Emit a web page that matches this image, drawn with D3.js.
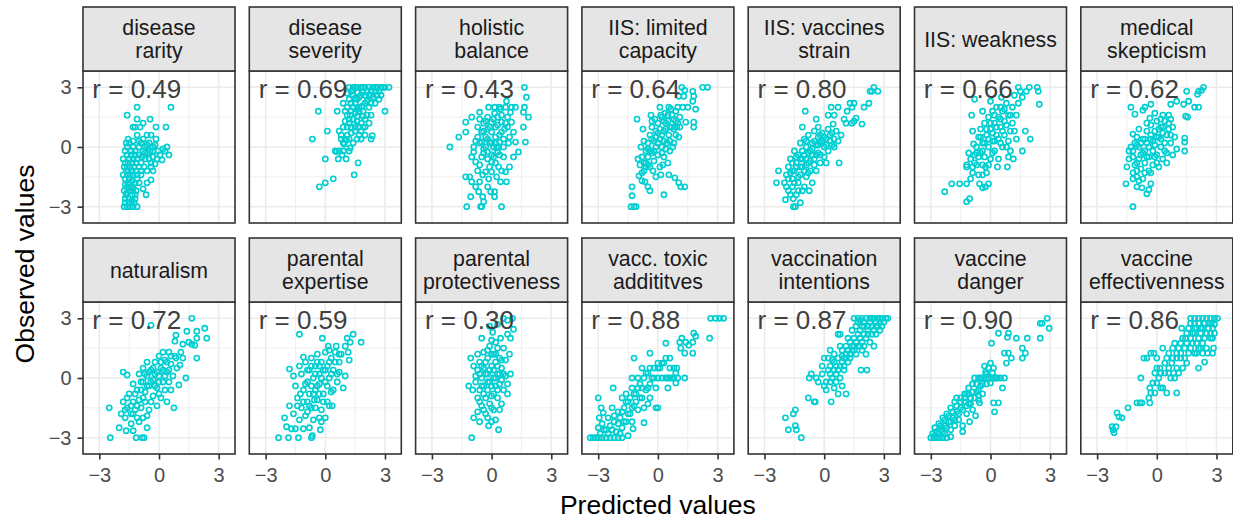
<!DOCTYPE html>
<html>
<head>
<meta charset="utf-8">
<script src="https://cdn.jsdelivr.net/npm/d3@7"></script>
<style>
  body { margin: 0; background: #fff; }
  svg { display: block; font-family: "Liberation Sans", Arial, Helvetica, sans-serif; }
</style>
</head>
<body>
<div id="chart"></div>
<script>
// facet labels, correlation per facet and axis ticks
const facets = ['disease\nrarity', 'disease\nseverity', 'holistic\nbalance', 'IIS: limited\ncapacity',
  'IIS: vaccines\nstrain', 'IIS: weakness', 'medical\nskepticism', 'naturalism', 'parental\nexpertise',
  'parental\nprotectiveness', 'vacc. toxic\naddititves', 'vaccination\nintentions', 'vaccine\ndanger',
  'vaccine\neffectivenness'];
const rValues = ['0.49', '0.69', '0.43', '0.64', '0.80', '0.66', '0.62', '0.72', '0.59', '0.30', '0.88', '0.87', '0.90', '0.86'];
const majorTicks = [-3, 0, 3];
const minorTicks = [-1.5, 1.5];

// [predicted, observed] pairs
const diseaseRarity = [[-1.6,1.6],[-1.1,2.0],[0.6,2.0],[-1.1,1.4],[-0.45,1.4],[-0.8,1.2],[-1.3,1.0],[-1.2,1.0],[-0.95,1.0],[-0.15,1.0],[0.35,1.0],[-1.1,0.6],[-0.6,0.6],[-0.4,0.6],[-1.55,0.4],[-0.15,0.4],[-0.5,0.2],[-0.9,0.2],[-1.6,0],[-1.3,0],[-0.7,0],[-0.3,0],[0.4,0],[0.5,-0.4],[0.15,-0.65],[-0.1,-0.6],[-0.3,-0.2],[-0.45,-0.2],[0.3,-0.2],[-0.8,-0.2],[-1.0,-0.4],[-0.2,-0.85],[-0.4,-1.0],[-0.6,-1.2],[-0.3,-1.2],[-0.4,-1.65],[-0.6,-1.8],[-0.8,-2.1],[-0.65,-2.4],[-1.1,-3.0],[-1.2,-2.6],
  [-1.75,-3],[-1.6,-3],[-1.45,-3],[-1.3,-3],[-1.7,-2.6],[-1.5,-2.6],[-1.35,-2.4],[-1.75,-2.2],[-1.6,-2.0],[-1.4,-2.0],[-1.2,-1.8],[-1.7,-1.6],[-1.5,-1.6],[-1.3,-1.4],[-1.1,-1.4],[-1.8,-1.4],[-1.65,-1.2],[-1.45,-1.0],[-1.25,-1.0],[-1.0,-1.0],[-1.7,-0.8],[-1.5,-0.6],[-1.3,-0.6],[-1.1,-0.6],[-0.9,-0.8],[-1.6,-0.4],[-1.4,-0.2],[-1.2,-0.2],[-1.0,0],[-1.7,-0.2],[-0.9,-1.2],[-0.75,-1.0],[-0.7,-0.6],[-0.5,-0.6],[-0.3,-0.5],[0.05,-0.4],[-0.05,-0.2],[0.2,-0.1],[-1.15,-2.2],[-1.0,-1.8],[-1.55,-1.8],[-1.25,-2.8],[-1.6,-2.3],[-1.4,-1.2],
  [-1.7,-2.8],[-1.5,-2.8],[-1.35,-2.7],[-1.65,-2.4],[-1.45,-2.2],[-1.3,-2.1],[-1.7,-1.9],[-1.5,-1.9],[-1.35,-1.7],[-1.6,-1.4],[-1.45,-1.4],[-1.55,-1.2],[-1.35,-1.2],[-1.6,-1.0],[-1.15,-1.2],[-1.55,-0.8],[-1.35,-0.8],[-1.15,-0.8],[-1.4,-0.4],[-1.2,-0.4],[-1.5,0.2],[-1.3,0.3],[-1.0,0.3],[-0.8,0.4],[-0.6,0.1],[-0.85,-0.5],[-0.55,-0.3],[-0.2,0.1],[-0.4,-0.8],[-0.7,-0.3],[-1.75,-1.0],[-1.8,-0.6],[-1.65,0.2],[-1.2,-2.4],[-1.1,-1.6],[-0.9,-1.4]];
const diseaseSeverity = [[-0.35,1.8],[-0.65,0.4],[0,-0.6],[-0.3,-2.0],[0,-1.8],[0.4,-1.6],[1.45,-1.4],[1.65,-0.8],[0.1,0.8],[0.6,1.8],[0.5,-0.2],[0.7,-0.2],[0.9,-0.2],[0.65,-0.6],[1.05,-0.6],[0.85,-0.4],[1.2,-0.2],[0.8,0.4],[1.0,0.4],[1.2,0.4],[1.6,0.4],[1.8,0.4],[0.9,0.2],[1.4,0.2],[2.3,0.4],[2.0,0.6],[1.7,0.6],[0.7,0.8],[0.9,1.0],[1.1,1.0],[1.3,1.0],[1.5,1.0],[1.9,1.0],[1.1,0.6],[0.8,0.6],[1.0,1.3],[1.2,1.4],[1.4,1.4],[1.6,1.3],[1.8,1.2],[2.0,1.4],[2.2,1.2],[1.1,1.6],[1.3,1.8],[1.5,1.7],[1.7,1.8],[1.9,1.8],[2.1,1.6],[2.3,1.6],[0.9,2.2],[1.1,2.0],[1.3,2.2],[1.5,2.2],[1.7,2.0],[2.0,2.2],[2.2,2.0],[2.5,2.2],[3.0,1.8],[2.7,2.4],[1.2,2.4],[1.4,2.6],[1.6,2.4],[1.8,2.6],[2.0,2.6],[2.3,2.6],[2.6,2.6],[2.8,2.6],[1.3,2.8],[1.2,3],[1.4,3],[1.6,3],[1.8,3],[2.0,3],[2.2,3],[2.4,3],[2.6,3],[2.8,3],[3.0,3],[3.2,3],[1.5,3],[1.9,3],[2.5,3],[2.9,3],[0.57,-0.23],[1.07,0.35],[2.36,0.57],
  [1.3,0.7],[1.5,0.8],[1.2,1.2],[1.45,1.15],[1.7,1.0],[1.9,1.55],[1.6,1.55],[1.25,1.6],[1.4,2.0],[1.6,1.9],[1.85,2.05],[2.1,2.3],[2.3,2.2],[1.5,2.45],[1.7,2.5],[2.2,2.6],[2.4,2.5],[1.9,2.75],[2.1,2.8],[2.3,2.85],[1.6,2.75],[1.4,2.85],[2.55,2.8],[2.7,2.8],[1.1,2.7],[1.0,1.8],[1.8,0.8],[2.0,1.0],[0.95,0.15],[1.25,-0.05]];
const holisticBalance = [[-2.1,0],[-1.65,0.5],[-1.3,0.75],[-1.3,1.25],[-1.0,1.5],[-0.6,1.75],[-0.15,2],[0.15,2],[0.4,2],[0.7,2],[1.0,2],[1.2,2],[0.75,2.3],[1.65,3],[1.75,2.5],[1.65,2],[1.85,1.5],[1.6,1.75],[1.6,1.0],[1.7,0.25],[1.35,-0.25],[1.1,-0.5],[0.9,-1.0],[0.7,-1.25],[0.75,-1.75],[0.45,-1.75],[0.15,-2.25],[0.5,-3],[-0.5,-3],[-0.55,-3],[-1.25,-3],[-1.05,-2.5],[-0.4,-2.75],[-1.3,-1.5],[-1.1,-1.5],[-1.0,-1.75],[-0.8,-2.0],[-0.65,-2.25],[-0.05,-2.25],[0.15,-2.5],[-0.45,-2.5],[-0.2,-2.0],[-0.6,-1.75],
  [-0.9,-0.25],[-0.9,0],[-0.7,0.5],[-0.7,1.0],[-0.5,0.75],[-0.5,0.25],[-0.5,-0.5],[-0.4,1.2],[-0.3,0],[-0.3,0.5],[-0.2,1.5],[-0.2,-0.25],[-0.1,-1.0],[-0.1,0.25],[0,0.75],[0,1.25],[0.1,-0.5],[0.1,0],[0.2,0.5],[0.2,1.0],[0.3,1.5],[0.3,-0.25],[0.35,-1.0],[0.4,0.25],[0.5,0.75],[0.5,1.25],[0.6,0],[0.6,-0.5],[0.8,1.0],[0.8,1.5],[0.9,0.5],[1.0,1.25],[1.1,0.75],[1.2,0.25],[-0.3,-1.25],[0,-1.25],[-0.6,-0.9],[-0.8,-0.75],[0.25,-1.5],[-0.15,-1.6],[0.0,-0.75],[0.35,0.0],[-0.2,0.9],[0.15,1.7],[0.5,1.6],[-0.4,-0.1],
  [-0.6,0.2],[-0.4,0.8],[-0.2,0.4],[0,0.2],[0.2,0.2],[0.4,0.6],[0.6,0.4],[0.7,1.2],[-0.1,1.0],[0.1,1.4],[0.3,1.1],[0.45,1.9],[-0.3,1.3],[-0.6,1.4],[0.0,-0.4],[0.2,-0.8],[0.4,-0.4],[-0.2,-0.6],[-0.4,-0.3],[0.25,-0.05],[0.65,0.9],[0.85,0.2],[0.95,1.75],[-0.8,0.3],[-1.0,-0.5],[-0.45,-1.4],[0.5,-1.2],[-0.7,-1.2]];
const iisCapacity = [[1.2,3],[1.35,2.85],[2.25,3],[2.5,3],[1.75,2.8],[1.8,2.55],[1.05,2.55],[1.3,2.55],[1.75,2.3],[1.9,1.9],[0.1,2],[0.55,2],[1.0,2],[1.25,2],[1.5,2],[1.8,1.25],[1.8,1.0],[1.4,1.25],[1.05,0.5],[0.75,0],[0.3,0.3],[-1.05,1.4],[-1.3,-2.0],[-1.3,-2.45],[-1.35,-3],[-1.1,-3],[-1.2,-3],[-0.5,-2.0],[-0.4,-2.2],[0.3,-2.4],[0.55,-1.4],[0.85,-1.55],[1.05,-1.8],[1.35,-2.0],[1.15,-2.0],[0.15,-1.4],[-0.1,-1.5],[-0.65,-1.75],[-0.95,-1.45],[-0.8,-1.7],
  [-0.9,-0.9],[-0.8,-0.5],[-0.7,-1.2],[-0.6,-0.8],[-0.6,-0.2],[-0.5,0.2],[-0.5,-0.5],[-0.4,-1.0],[-0.4,0.6],[-0.3,-0.3],[-0.3,1.0],[-0.2,0.3],[-0.2,-0.7],[-0.15,1.4],[-0.1,0],[-0.1,0.8],[0,-0.4],[0,1.2],[0.1,0.4],[0.1,-1.0],[0.2,1.5],[0.2,0],[0.3,0.8],[0.3,-0.5],[0.4,1.2],[0.45,0.2],[0.5,1.6],[0.55,0.6],[0.6,-0.2],[0.7,1.0],[0.8,1.4],[0.9,0.6],[1.0,1.2],[1.1,1.5],[0.65,1.9],[0.35,1.7],[-0.35,1.6],[-0.7,0.3],[-0.75,0.9],[-0.85,0.0],[0.8,0.2],[0.95,1.0],[0.25,-0.9],[-0.25,-1.2],[0.5,-0.8],
  [-0.7,-0.8],[-0.5,-0.9],[-0.4,-0.2],[-0.3,0.4],[-0.1,0.5],[0,0.2],[0.1,0.9],[0.2,0.6],[0.3,1.3],[0.4,0.9],[0.5,1.3],[0.6,1.0],[0.7,1.6],[0.8,0.9],[0.9,1.3],[0.6,0.3],[0.4,-0.1],[0.2,-0.3],[-0.2,-0.2],[-0.5,-0.1],[0.0,0.7],[-0.3,1.3],[0.15,1.6],[0.9,1.8],[1.1,1.0],[-0.8,-1.3],[-0.6,-1.0],[-1.0,-0.6]];
const iisStrain = [[2.3,2.8],[2.5,3],[2.7,2.8],[2.4,2.8],[2.25,2.2],[2.0,2.0],[1.3,2.2],[1.4,2.0],[1.5,2.2],[0.7,2.0],[0.35,2.0],[-0.95,1.8],[1.15,1.8],[1.6,1.45],[1.5,1.3],[1.4,1.2],[1.9,1.15],[1.0,1.4],[1.1,1.2],[0.5,1.6],[0.2,1.6],[0.45,1.15],[-0.4,1.4],[-1.1,1.0],[-0.3,1.0],[0.75,-0.8],[-2.3,-1.2],[-2.4,-1.8],[-1.95,-2.65],[-1.55,-3],[-1.45,-3],[-1.2,-2.8],[-1.55,-2.6],[-0.75,-2.2],[-1.1,-2.2],
  [-2.0,-1.8],[-1.9,-1.4],[-1.8,-2.2],[-1.8,-1.0],[-1.7,-0.6],[-1.6,-1.6],[-1.6,-2.0],[-1.5,-1.2],[-1.5,-0.2],[-1.4,-0.8],[-1.4,-2.4],[-1.3,-1.8],[-1.3,-0.4],[-1.2,0.2],[-1.2,-1.4],[-1.1,-1.0],[-1.0,-2.0],[-1.0,-0.4],[-1.0,0.4],[-0.9,-1.5],[-0.9,0],[-0.8,-0.8],[-0.8,0.6],[-0.7,-1.2],[-0.7,-0.2],[-0.6,0.2],[-0.6,-1.8],[-0.5,-0.6],[-0.5,0.8],[-0.4,-1.2],[-0.4,0.1],[-0.3,0.5],[-0.3,-0.3],[-0.2,-0.8],[-0.2,0.2],[-0.1,0.7],[0,0],[0,-0.5],[0.1,0.4],[0.2,-0.2],[0.3,0.6],[0.4,0.1],[0.5,0.4],[0.6,0.8],[0.7,0.3],[0.85,0.6],[0.2,0.9],[-1.7,-1.3],[-1.2,-0.6],[-0.6,-0.4],[0.1,-0.8],[-0.9,-0.6],
  [-1.8,-1.6],[-1.6,-1.2],[-1.5,-1.8],[-1.4,-1.0],[-1.3,-1.5],[-1.2,-1.0],[-1.1,-0.6],[-1.0,-1.2],[-0.9,-0.9],[-0.8,-0.3],[-0.8,-1.3],[-0.7,-0.7],[-0.6,-0.1],[-0.5,-0.9],[-0.5,0.3],[-0.4,-0.4],[-0.3,0.1],[-0.2,-0.4],[-0.1,0.3],[0,0.5],[0.1,0.1],[0.3,0.3],[0.4,0.7],[0.5,0.0],[-0.2,0.6],[-0.9,0.3],[-1.1,-0.2],[-1.4,-0.5],[-1.6,-0.8],[-1.9,-2.0],[-1.7,-2.4],[-1.3,-2.2]];
const iisWeakness = [[1.4,3],[1.5,2.8],[1.95,3],[2.35,3],[2.4,2.8],[1.8,2.8],[2.45,2.15],[1.2,2.6],[1.6,2.5],[-0.8,2.4],[-0.95,1.6],[-0.4,1.8],[1.75,0.8],[2.0,0.4],[1.6,-0.2],[0.85,-1.0],[1.15,-0.6],[-0.85,0.15],[-1.2,-1.0],[-2.3,-2.25],[-1.95,-1.85],[-1.55,-1.85],[-1.2,-1.85],[-1.2,-2.75],[-1.05,-2.6],[-0.55,-1.85],[-0.25,-2.0],[-0.1,-1.85],[-0.4,-2.05],
  [-1.2,-0.9],[-1.0,-0.6],[-1.1,-0.3],[-0.9,-1.3],[-0.8,-0.4],[-0.7,0],[-0.7,-0.9],[-0.6,0.5],[-0.6,-1.4],[-0.5,-0.3],[-0.5,0.9],[-0.4,0.2],[-0.4,-0.9],[-0.3,1.2],[-0.3,-0.5],[-0.2,0.6],[-0.2,-1.3],[-0.1,0],[-0.1,1.5],[0,0.9],[0,-0.6],[0.1,0.3],[0.1,1.8],[0.2,1.2],[0.2,-0.2],[0.3,0.6],[0.3,2.0],[0.4,1.5],[0.4,-0.6],[0.5,0.2],[0.5,1.0],[0.6,1.8],[0.7,0.6],[0.7,1.3],[0.8,2.2],[0.8,0],[0.9,1.6],[1.0,0.8],[1.1,1.2],[1.1,2.0],[1.3,1.6],[1.3,0.4],[1.4,2.2],[0.9,-0.5],[-0.9,0.8],[-0.25,-1.0],[0.0,2.3],[0.55,2.5],
  [-0.8,-0.8],[-0.6,-0.5],[-0.4,-0.2],[-0.3,0.2],[-0.2,0.9],[-0.1,0.4],[0,1.2],[0.1,0.7],[0.2,0.3],[0.2,1.6],[0.3,1.0],[0.4,0.4],[0.5,1.4],[0.6,0.8],[0.6,0.0],[0.7,1.9],[0.8,1.1],[0.9,0.3],[1.0,1.6],[1.2,0.8],[0.5,2.0],[-0.5,0.5],[-0.7,-0.3],[-0.9,-1.0],[-1.0,-1.6],[-0.4,-1.4],[-0.1,-0.9],[0.1,-0.3],[0.35,-1.0],[1.0,-0.2]];
const medicalSkepticism = [[2.35,3],[2.1,2.8],[2.05,2.65],[2.25,2.85],[1.5,2.8],[1.6,2.3],[1.35,2.15],[1.0,2.3],[0.7,2.15],[1.9,2.0],[2.1,2.0],[-1.3,2.0],[-1.1,1.65],[-0.7,1.85],[-0.6,2.0],[-0.3,2.15],[-0.35,1.45],[1.45,1.55],[1.55,1.5],[1.4,0.45],[1.4,0.25],[1.4,-0.2],[-1.2,0.65],[-1.0,0.5],[-1.4,-0.2],[-1.5,-1.0],[-1.55,-1.85],[-1.2,-3],[-0.5,-2.35],[-0.3,-1.85],[-1.0,-2.0],[-0.75,-2.05],[-0.4,-2.15],[-0.9,-1.7],
  [-1.3,0],[-1.2,-0.5],[-1.2,-1.3],[-1.1,0.2],[-1.0,-0.8],[-1.0,-1.5],[-0.9,0],[-0.8,-0.4],[-0.8,-1.1],[-0.7,0.4],[-0.7,-1.6],[-0.6,-0.2],[-0.6,-0.8],[-0.5,0.8],[-0.5,0.2],[-0.4,-0.5],[-0.4,-1.2],[-0.3,1.1],[-0.3,0.4],[-0.2,-0.2],[-0.2,-0.9],[-0.1,0.8],[-0.1,0.1],[0,1.3],[0,-0.4],[0.1,0.5],[0.1,-1.0],[0.2,1.0],[0.2,0],[0.3,-0.6],[0.3,0.7],[0.4,1.3],[0.4,0.2],[0.5,-0.3],[0.6,0.9],[0.7,0.2],[0.8,-0.4],[0.8,1.0],[0.9,0.5],[0.5,-0.8],[-0.1,1.7],[0.3,1.6],[0.7,1.4],[-0.9,0.9],[1.0,-0.1],
  [-1.2,-0.2],[-1.1,-0.9],[-1.0,0.1],[-0.9,-0.6],[-0.8,0.2],[-0.7,-0.3],[-0.6,0.4],[-0.5,-0.5],[-0.4,0.0],[-0.3,0.6],[-0.2,0.3],[-0.1,-0.5],[0,0.5],[0.1,0.9],[0.2,0.4],[0.3,1.0],[0.4,-0.2],[0.5,0.6],[0.6,1.2],[0.7,0.6],[-0.6,-1.3],[-1.0,-1.2],[-1.2,-1.6],[-0.3,-1.3],[0.0,-0.8],[-0.5,1.2],[0.2,1.4],[0.6,1.6],[-1.4,-0.6]];
const naturalism = [[1.65,3],[-0.4,2.65],[2.3,2.5],[1.4,2.35],[1.9,2.35],[0.85,2.15],[2.4,2.0],[1.9,2.0],[0.8,1.85],[1.2,1.7],[1.65,1.7],[1.8,1.65],[1.5,1.8],[1.9,1.0],[1.2,1.0],[0.85,1.0],[1.05,0.65],[1.35,0],[1.0,-0.35],[0.75,-1.5],[-2.5,-1.5],[-2.45,-3],[-2.0,-2.5],[-1.65,-2.65],[-1.3,-2.65],[-1.15,-3],[-0.85,-3],[-0.75,-3],[-0.6,-2.5],[-1.8,0.3],[-1.6,0.15],[-1.0,-2.2],[-0.8,-2.0],[-1.4,-2.3],
  [-1.9,-1.8],[-1.8,-1.2],[-1.7,-2.0],[-1.6,-1.5],[-1.5,-0.8],[-1.4,-1.8],[-1.3,-1.2],[-1.3,-0.3],[-1.2,-1.6],[-1.1,-0.6],[-1.0,-1.1],[-1.0,0.2],[-0.9,-0.2],[-0.9,-1.5],[-0.8,0.5],[-0.7,-0.7],[-0.7,-1.2],[-0.6,0.1],[-0.6,0.8],[-0.5,-0.4],[-0.5,-1.6],[-0.4,0.4],[-0.3,-0.1],[-0.3,-0.9],[-0.2,0.8],[-0.2,0.2],[-0.1,-0.5],[0,0.1],[0,1.1],[0.1,-1.0],[0.1,0.5],[0.2,-0.2],[0.3,0.9],[0.3,-0.6],[0.4,0.3],[0.5,1.3],[0.5,-0.2],[0.6,0.7],[0.7,0.1],[0.8,1.1],[0.2,1.3],[-0.1,-1.4],[0.4,-1.2],[-1.1,-2.0],[-0.6,-1.9],
  [-1.6,-1.0],[-1.4,-1.4],[-1.2,-0.8],[-1.1,-1.4],[-0.9,-0.6],[-0.8,-0.2],[-0.7,0.2],[-0.6,-0.4],[-0.5,0.3],[-0.4,-0.2],[-0.3,0.5],[-0.2,-0.4],[-0.1,0.3],[0,-0.2],[0.1,0.8],[0.2,0.4],[0.3,0.1],[0.4,0.8],[0.5,0.4],[0.6,1.1],[-0.4,-1.2],[-0.8,-1.0],[0.0,-0.8],[0.6,-0.6],[0.9,0.5],[1.1,1.3],[-1.7,-1.6],[-1.3,-1.8]];
const parentalExpertise = [[-1.3,2.2],[-0.15,2.0],[1.4,2.2],[1.8,1.8],[1.1,2.0],[1.25,1.8],[1.0,1.6],[0.15,1.6],[0.55,1.6],[-1.1,1.05],[-1.3,0.6],[-1.8,0.45],[-1.6,0.1],[-2.35,-3],[-1.85,-3],[-1.35,-3],[-0.7,-3],[-0.65,-2.9],[-0.25,-2.6],[-2.05,-2.0],[-1.95,-2.45],[-1.7,-2.55],[-1.5,-2.55],[-1.1,-2.55],[-0.8,-2.5],[-0.3,-2.0],[0.2,-1.4],[0.4,-0.6],[1.0,0.1],[1.2,0.9],[1.15,1.3],[0.7,0.8],
  [-1.8,-1.4],[-1.6,-1.8],[-1.5,-0.4],[-1.4,-1.0],[-1.3,-2.1],[-1.2,0.2],[-1.2,-1.5],[-1.1,-0.6],[-1.0,-1.9],[-1.0,0.8],[-0.9,-0.2],[-0.9,-1.2],[-0.8,0.4],[-0.8,-0.8],[-0.7,1.0],[-0.7,-1.5],[-0.6,0],[-0.6,-2.1],[-0.5,-0.6],[-0.5,0.6],[-0.4,1.2],[-0.4,-1.1],[-0.3,0.2],[-0.3,-0.3],[-0.2,-1.6],[-0.2,0.8],[-0.1,-0.8],[-0.1,0.4],[0,1.3],[0,-0.2],[0.1,-1.2],[0.1,0.6],[0.2,0],[0.3,1.0],[0.3,-0.7],[0.4,0.4],[0.5,1.3],[0.6,-0.2],[0.7,0.3],[0.8,1.2],[0.9,-0.5],[-0.55,-1.1],[-1.25,-0.8],[0.0,-2.0],[0.35,-1.4],
  [-1.1,-1.2],[-1.0,-0.3],[-0.9,0.4],[-0.8,-1.4],[-0.7,-0.4],[-0.7,0.6],[-0.6,-0.8],[-0.5,0.2],[-0.4,-0.4],[-0.4,0.8],[-0.3,-0.8],[-0.3,0.6],[-0.2,0],[-0.1,-1.2],[0,0.4],[0.1,-0.4],[0.2,0.8],[0.3,0.2],[0.5,0.8],[0.6,0.2],[-0.5,-1.5],[-0.9,-1.7],[-1.4,-1.4],[-0.2,-2.2],[0.2,1.4],[0.7,1.2]];
const parentalProtect = [[-1.0,-3],[-1.15,-0.4],[-1.05,1.0],[-0.7,1.2],[0.35,-2.6],[-0.15,-2.4],[-0.9,-2.0],[-0.7,-1.7],[-0.6,-2.2],[0.2,-2.1],[1.1,2.45],[1.05,3],[0.8,2.9],[0.6,3],[0.3,2.7],[-0.1,2.6],[0.05,2.3],[0.8,2.2],[0.95,2.0],[0.9,1.2],[0.95,0.2],[0.8,-0.3],[0.8,-0.8],[-0.9,0.6],[-0.8,0.1],[-0.95,-0.6],
  [-0.8,-0.2],[-0.7,0.4],[-0.7,-1.0],[-0.6,-0.6],[-0.6,0.8],[-0.5,0],[-0.5,-1.4],[-0.4,1.3],[-0.4,-0.4],[-0.4,0.5],[-0.3,-1.0],[-0.3,-1.8],[-0.2,0.2],[-0.2,1.0],[-0.2,-0.6],[-0.1,1.6],[-0.1,-0.2],[-0.1,-1.3],[0,0.6],[0,-0.9],[0,1.9],[0.1,0],[0.1,1.2],[0.1,-1.6],[0.2,-0.4],[0.2,0.8],[0.3,1.5],[0.3,-1.0],[0.3,0.2],[0.4,-0.3],[0.4,1.0],[0.5,0.5],[0.5,-1.3],[0.6,1.5],[0.6,-0.6],[0.7,0.1],[0.7,0.9],[-0.2,-2.0],[0.0,-2.2],[-0.5,2.0],[0.45,2.0],
  [-0.6,0.2],[-0.5,0.6],[-0.5,-0.4],[-0.4,-0.8],[-0.3,0.2],[-0.3,0.8],[-0.2,-0.2],[-0.1,0.4],[0,-0.4],[0,1.2],[0.1,0.4],[0.1,-0.8],[0.2,0],[0.2,1.2],[0.3,-0.6],[0.3,0.6],[0.4,0.2],[0.5,-0.1],[0.5,0.9],[-0.2,1.4],[0.2,1.8],[-0.6,-1.2],[0.0,-1.5],[0.4,-1.6],[-0.4,-1.6],[0.6,0.2]];
const toxicAdditives = [[2.65,3],[2.9,3],[3.1,3],[3.3,3],[2.6,2.0],[1.8,2.25],[1.9,2.1],[1.75,1.8],[1.4,1.8],[1.55,1.65],[1.15,1.5],[1.35,1.25],[1.75,1.25],[1.2,2.0],[1.1,1.8],[0.4,1.75],[-0.4,1.25],[-1.2,1.0],[0.4,1.0],[0.6,1.0],[0.0,0.75],[1.35,0],[0.95,0.5],[0.6,0.5],[0.9,0.25],[-2.25,-0.5],[-3.0,-1.0],[-2.85,-1.5],[-2.75,-1.75],[-2.95,-2.0],
  [-3.4,-3],[-3.25,-3],[-3.1,-3],[-2.95,-3],[-2.8,-3],[-2.6,-3],[-2.4,-3],[-2.2,-3],[-2.0,-3],[-1.8,-3],
  [-3.0,-2.5],[-2.8,-2.3],[-2.6,-2.6],[-2.5,-2.0],[-2.4,-2.4],[-2.3,-1.5],[-2.2,-2.2],[-2.1,-2.7],[-2.0,-1.7],[-1.9,-2.0],[-1.8,-1.0],[-1.8,-2.5],[-1.7,-1.5],[-1.6,-0.8],[-1.6,-2.2],[-1.5,-1.2],[-1.4,-1.8],[-1.3,-0.5],[-1.3,0],[-1.2,-1.4],[-1.1,-0.8],[-1.0,0],[-1.0,-1.6],[-0.9,-0.3],[-0.8,-1.0],[-0.8,0.5],[-0.7,0],[-0.6,-0.6],[-0.5,0.25],[-0.5,-1.3],[-0.4,-0.3],[-0.3,0],[-0.2,0.5],[-0.1,-0.5],[0,0],[0.1,0.5],[0.2,0],[0.3,0.75],[0.4,0],[0.5,-0.5],[0.6,0],[0.8,0],[0.9,-0.25],[-0.1,-1.5],[0.0,-1.5],[-1.9,-2.8],[-1.5,-2.9],[-0.7,-2.25],[-1.25,-2.55],
  [-2.9,-2.8],[-2.7,-2.6],[-2.5,-2.8],[-2.3,-2.6],[-2.2,-1.9],[-2.0,-2.3],[-1.8,-1.7],[-1.7,-2.2],[-1.6,-1.2],[-1.5,-1.8],[-1.4,-1.0],[-1.3,-1.5],[-1.2,-0.8],[-1.1,-1.2],[-1.0,-0.5],[-0.9,-1.0],[-0.8,-0.5],[-0.7,-1.5],[-0.6,0.25],[-0.5,-0.5],[-0.4,0.5],[-0.2,0],[0,0.5],[0.2,0.75],[0.5,0],[0.7,0],[1.0,0],[0.8,0.5],[-0.4,-1.0],[-1.3,-2.2]];
const vaccIntentions = [[-1.15,-3],[-1.8,-2.6],[-1.4,-2.6],[-1.45,-2.4],[-1.95,-2.0],[-1.55,-1.8],[-1.45,-1.6],[-0.8,-1.0],[-0.5,-1.2],[-0.45,-1.2],[0.35,-1.2],[-0.75,0],[-0.4,0],[-0.3,-0.2],[-0.65,0.2],[0,1.0],[0.3,1.4],[0.7,2.2],[0.8,2.2],[1.85,0.4],[2.15,0.4],[1.1,-0.8],[0.7,-0.8],[0.1,-0.6],[0.0,-0.4],[0.5,-0.5],[0.9,-0.4],[0.1,-0.2],[0.4,0.0],[0.6,0.2],[0.8,0.0],[0.2,0.4],[-0.1,0.2],[0.3,0.6],[0.5,0.8],[0.8,0.6],[1.0,0.4],[0.7,1.0],[1.0,1.0],[1.2,0.8],[0.5,1.2],[0.9,1.4],[1.1,1.2],[1.3,1.0],[1.4,1.4],[1.6,1.2],[0.8,1.6],[1.1,1.6],[1.3,1.8],[1.5,1.6],[1.7,1.6],[1.9,1.4],[2.1,1.2],[1.2,2.0],[1.5,2.0],[1.7,2.2],[1.9,1.8],[2.1,2.0],[2.3,1.8],[2.5,1.6],[1.4,2.4],[1.6,2.6],[1.8,2.4],[2.0,2.6],[2.2,2.4],[2.4,2.2],[2.6,2.2],[2.8,2.4],[2.9,2.6],[2.0,2.8],[2.3,2.8],[2.6,2.8],[1.5,3],[1.7,3],[1.9,3],[2.1,3],[2.3,3],[2.5,3],[2.7,3],[2.9,3],[3.1,3],[3.2,3],[1.8,2.9],[2.4,3],[2.8,3],[0.2,1.0],[-0.1,0.6],
  [0.3,0.2],[0.5,0.4],[0.6,0.6],[0.7,0.4],[0.9,0.8],[1.0,0.6],[1.1,1.0],[1.2,1.4],[1.3,1.2],[1.5,1.4],[1.6,1.8],[1.8,1.6],[1.8,2.0],[2.0,2.2],[2.2,2.2],[2.0,1.6],[2.4,2.6],[2.6,2.6],[2.8,2.8],[3.0,2.8],[2.2,2.6],[1.7,2.8],[2.5,2.4],[2.7,2.6],[1.9,2.6],[1.4,1.6],[0.9,1.1],[0.4,0.9],[0.3,-0.2],[0.6,-0.2]];
const vaccineDanger = [[-3.0,-3],[-2.85,-3],[-2.7,-3],[-2.55,-3],[-2.4,-3],[-2.2,-3],[-2.9,-2.8],[-2.8,-2.5],[-2.7,-2.7],[-2.6,-2.3],[-2.5,-2.6],[-2.4,-2.0],[-2.3,-2.4],[-2.2,-1.8],[-2.1,-2.2],[-2.0,-2.6],[-2.0,-1.5],[-1.9,-2.0],[-1.8,-1.2],[-1.8,-2.4],[-1.7,-1.7],[-1.6,-2.1],[-1.5,-1.0],[-1.5,-1.5],[-1.4,-2.4],[-1.3,-1.2],[-1.3,-0.8],[-1.2,-1.8],[-1.1,-0.5],[-1.1,-1.3],[-1.0,-1.0],[-0.9,-0.3],[-0.9,-1.6],[-0.8,0],[-0.7,-0.7],[-0.6,-1.1],[-0.6,0],[-0.5,-0.4],[-0.45,0],[-0.3,0],[-0.2,-0.3],[-0.1,0],[0.05,0],[0.2,0],[0.35,0],[0.5,0],[0.7,0],[0.6,-0.5],[0.4,-1.25],[0.2,-1.7],[0.15,-1.25],[-0.55,-1.25],[-0.75,-1.9],[-1.05,-2.2],[-1.4,-2.7],[-2.0,-2.95],[-0.4,-0.8],[0.0,-0.25],[-0.25,0.3],[-0.1,0.5],[0.0,0.75],[0.15,0.5],[-0.3,0.6],[0.05,1.75],[0.4,2.25],[0.9,2.25],[0.85,2.05],[1.3,2.0],[1.85,2.0],[0.7,1.25],[0.9,1.25],[1.05,1.0],[0.8,0.75],[1.6,1.5],[1.75,1.25],[1.6,1.0],[2.85,3.0],[2.95,2.5],[2.5,2.75],[2.6,2.75],[2.5,2.0],[-1.7,-1.0],[-1.2,-0.8],[-2.3,-2.8],
  [-2.8,-2.9],[-2.6,-2.8],[-2.5,-2.4],[-2.3,-2.1],[-2.2,-2.5],[-2.1,-1.9],[-1.9,-1.7],[-1.8,-2.1],[-1.7,-1.4],[-1.6,-1.8],[-1.5,-1.2],[-1.4,-1.6],[-1.3,-1.0],[-1.2,-1.4],[-1.1,-0.8],[-1.0,-1.3],[-0.9,-0.7],[-0.8,-1.0],[-0.7,-0.3],[-0.6,-0.6],[-0.5,0.0],[-0.4,-0.3],[-0.2,0.2],[0.1,0.25],[0.3,0.0],[-0.6,-0.9],[-2.4,-2.7],[-2.0,-2.2]];
const vaccEffectiveness = [[-2.2,-2.6],[-2.05,-2.45],[-2.25,-2.45],[-2.15,-2.75],[-2.0,-1.75],[-1.9,-1.95],[-1.75,-2.0],[-1.45,-1.5],[-1.0,-1.25],[-0.85,-1.25],[-0.75,-1.25],[-0.35,-1.25],[-0.8,0],[-0.65,1.0],[-0.5,1.0],[-0.3,1.25],[-0.15,1.25],[0,1.0],[1.0,-0.75],[-0.4,-1.0],[-0.3,-0.75],[-0.1,-0.75],[0.5,-0.75],[0.2,-0.5],[-0.35,-0.5],[-0.2,-0.25],[0.0,-0.25],[0.3,-0.5],[0.1,0],[-0.1,0.25],[0.15,0.5],[0.4,0.75],[0.6,0.25],[0.7,0],[0.85,0.25],[1.0,0.5],[0.9,0],[1.1,0.25],[0.75,0.75],[0.5,1.0],[0.3,1.5],[0.6,1.25],[0.8,1.5],[1.0,1.25],[1.2,1.0],[1.3,0.5],[1.5,0.75],[0.9,1.75],[1.1,1.5],[1.3,2.0],[1.5,1.75],[1.7,1.5],[1.9,1.25],[2.1,1.5],[1.25,2.5],[1.5,2.25],[1.7,2.0],[1.9,2.25],[2.1,2.0],[2.3,1.75],[2.5,1.5],[1.7,2.75],[1.9,2.5],[2.1,2.75],[2.3,2.5],[2.5,2.25],[2.7,2.0],[2.9,2.25],[2.8,2.0],[2.85,1.5],[2.1,0.5],[2.4,0.8],[1.7,3],[1.9,3],[2.1,3],[2.3,3],[2.5,3],[2.7,3],[2.9,3],[3.05,3],[2.6,2.75],[2.9,2.7],[2.3,1.25],[2.55,1.25],[2.8,1.25],
  [1.2,1.25],[1.4,1.5],[1.4,1.0],[1.6,1.25],[1.8,1.75],[2.0,1.75],[2.2,2.25],[2.4,2.0],[2.6,2.5],[2.8,2.5],[1.6,2.5],[1.8,2.25],[2.0,2.5],[2.4,2.75],[2.7,2.25],[2.2,1.5],[1.2,1.75],[1.0,1.0],[0.8,1.0],[0.6,0.5],[0.4,0.25],[0.2,0.25],[0.0,0.5],[1.9,2.75],[2.2,2.5],[2.75,2.75],[1.45,2.0],[2.0,1.25]];

const facetPoints = [diseaseRarity, diseaseSeverity, holisticBalance, iisCapacity, iisStrain, iisWeakness,
  medicalSkepticism, naturalism, parentalExpertise, parentalProtect, toxicAdditives, vaccIntentions,
  vaccineDanger, vaccEffectiveness];

var width = 1233, height = 519;
var left0 = 83, colStep = 166.3, rowStep = 231, top0 = 7;
var panelSize = 152, stripH = 64;
var nCols = 7;
var fontFam = '"Liberation Sans", Arial, Helvetica, sans-serif';

var svg = d3.select('#chart').append('svg')
  .attr('width', width)
  .attr('height', height);

var x = d3.scaleLinear().domain([-3.82, 3.82]).range([0, panelSize]);
var y = d3.scaleLinear().domain([-3.82, 3.82]).range([panelSize, 0]);

facets.forEach(function(label, i) {
  var col = i % nCols, row = Math.floor(i / nCols);
  var px = left0 + col * colStep;
  var sy = top0 + row * rowStep;
  var py = sy + stripH;

  var g = svg.append('g').attr('transform', 'translate(' + px + ',' + py + ')');

  // grid lines, minor first
  g.selectAll('.minor-v').data(minorTicks).enter().append('line')
    .attr('x1', d => x(d)).attr('x2', d => x(d)).attr('y1', 0).attr('y2', panelSize)
    .attr('stroke', '#ebebeb').attr('stroke-width', 0.8);
  g.selectAll('.minor-h').data(minorTicks).enter().append('line')
    .attr('y1', d => y(d)).attr('y2', d => y(d)).attr('x1', 0).attr('x2', panelSize)
    .attr('stroke', '#ebebeb').attr('stroke-width', 0.8);
  g.selectAll('.major-v').data(majorTicks).enter().append('line')
    .attr('x1', d => x(d)).attr('x2', d => x(d)).attr('y1', 0).attr('y2', panelSize)
    .attr('stroke', '#ebebeb').attr('stroke-width', 1.6);
  g.selectAll('.major-h').data(majorTicks).enter().append('line')
    .attr('y1', d => y(d)).attr('y2', d => y(d)).attr('x1', 0).attr('x2', panelSize)
    .attr('stroke', '#ebebeb').attr('stroke-width', 1.6);

  // points
  g.selectAll('circle').data(facetPoints[i]).enter().append('circle')
    .attr('cx', d => x(d[0]))
    .attr('cy', d => y(d[1]))
    .attr('r', 2.6)
    .attr('fill', 'none')
    .attr('stroke', '#00ced1')
    .attr('stroke-width', 1.6);

  // correlation label
  g.append('text')
    .attr('x', x(-3.35))
    .attr('y', y(3) + 11)
    .attr('font-size', 26)
    .attr('fill', '#404040')
    .text('r = ' + rValues[i]);

  g.append('rect')
    .attr('width', panelSize).attr('height', panelSize)
    .attr('fill', 'none').attr('stroke', '#333333').attr('stroke-width', 1.6);

  // strip
  svg.append('rect')
    .attr('x', px).attr('y', sy)
    .attr('width', panelSize).attr('height', stripH)
    .attr('fill', '#e5e5e5').attr('stroke', '#333333').attr('stroke-width', 1.6);

  var lines = label.split('\n');
  var st = svg.append('text')
    .attr('text-anchor', 'middle')
    .attr('font-size', 21.3)
    .attr('fill', '#1a1a1a');
  lines.forEach(function(ln, k) {
    var base = lines.length === 1 ? 39.5 : 28 + k * 23;
    st.append('tspan').attr('x', px + panelSize / 2).attr('y', sy + base).text(ln);
  });

  // axes on the outer panels only
  if (col === 0) {
    var ya = svg.append('g')
      .attr('transform', 'translate(' + px + ',' + py + ')')
      .call(d3.axisLeft(y).tickValues(majorTicks).tickSize(5.5).tickPadding(6));
    styleAxis(ya);
  }
  if (row === 1) {
    var xa = svg.append('g')
      .attr('transform', 'translate(' + px + ',' + (py + panelSize) + ')')
      .call(d3.axisBottom(x).tickValues(majorTicks).tickSize(5.5).tickPadding(8.3));
    styleAxis(xa);
  }
});

function styleAxis(a) {
  a.select('.domain').remove();
  a.selectAll('.tick line').attr('stroke', '#333333').attr('stroke-width', 1.6);
  a.selectAll('.tick text')
    .attr('fill', '#4d4d4d')
    .style('font-size', '20px')
    .style('font-family', fontFam);
}

// axis titles
svg.append('text')
  .attr('x', left0 + (6 * colStep + panelSize) / 2)
  .attr('y', 514)
  .attr('text-anchor', 'middle')
  .attr('font-size', 26.5)
  .attr('fill', '#000')
  .text('Predicted values');

svg.append('text')
  .attr('transform', 'translate(33.5,264) rotate(-90)')
  .attr('text-anchor', 'middle')
  .attr('font-size', 26.5)
  .attr('fill', '#000')
  .text('Observed values');
</script>
</body>
</html>
